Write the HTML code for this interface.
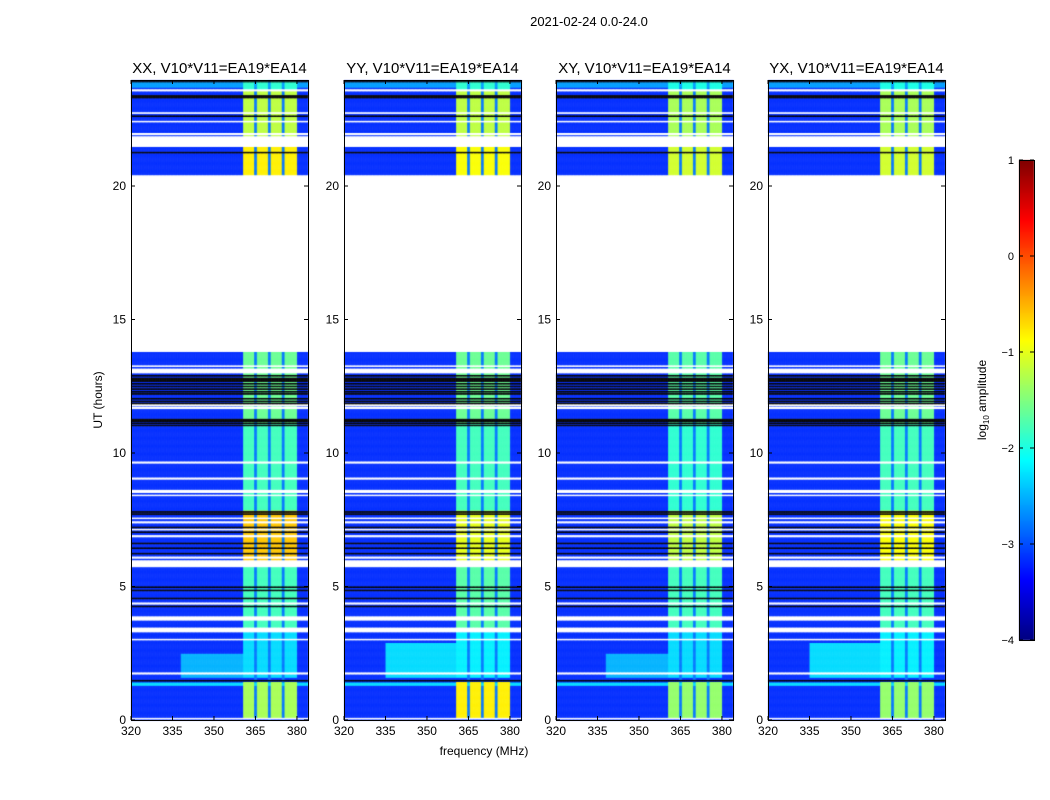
<!DOCTYPE html>
<html><head><meta charset="utf-8">
<style>
html,body{margin:0;padding:0;background:#fff;}
body{width:1050px;height:800px;position:relative;overflow:hidden;font-family:"Liberation Sans",sans-serif;}
#chart{position:absolute;left:0;top:0;}
</style></head>
<body>
<svg id="chart" width="1050" height="800" xmlns="http://www.w3.org/2000/svg">
<foreignObject x="0" y="0" width="1050" height="800"><canvas xmlns="http://www.w3.org/1999/xhtml" id="cv" width="1050" height="800"></canvas></foreignObject>
<g id="axes"></g>
</svg>
<script>
// ---- data ----
const panelTitles = ["XX, V10*V11=EA19*EA14","YY, V10*V11=EA19*EA14","XY, V10*V11=EA19*EA14","YX, V10*V11=EA19*EA14"];
const xTicks = [320,335,350,365,380];
const yTicks = [0,5,10,15,20];
const cbTicks = [1,0,-1,-2,-3,-4];
const cbTickLabels = ["1","0","\u22121","\u22122","\u22123","\u22124"];
const backgroundLevel = -3.15;
const gapRanges = [[13.79,20.41],[21.47,21.87],[13.0,13.17],[5.73,5.99],[3.3,3.48]];
const whiteLines = [23.6,22.75,22.43,21.96,13.27,11.8,11.7,9.66,9.06,8.6,8.55,8.43,7.57,7.42,7.15,6.9,6.1,4.38,3.86,3.78,3.03,1.76,0.07];
const blackLines = [23.93,23.38,23.33,22.63,21.27,12.9,12.8,12.77,12.7,12.6,12.5,12.4,12.3,12.22,12.05,11.95,11.87,11.27,11.2,11.12,11.05,7.8,7.72,7.23,7.04,6.63,6.44,6.25,4.98,4.87,4.57,4.27,1.5];
const rfiSubbands = [[360.5,364.6],[365.4,369.6],[370.4,374.6],[375.4,380.0]];
const rfiSegments = [[0.1,1.45],[1.6,3.3],[3.48,5.73],[5.99,7.85],[7.85,11.1],[11.1,13.79],[20.41,21.47],[21.87,23.6],[23.6,24]];
const rfiXX = [-1.3,-2.3,-1.8,-0.6,-1.8,-1.6,-0.8,-1.2,-1.9];
const rfiYY = [-0.8,-2.2,-1.7,-1.0,-1.8,-1.6,-0.9,-1.2,-1.9];
const rfiXY = [-1.4,-2.3,-1.8,-1.2,-1.9,-1.7,-1.1,-1.3,-2.0];
const rfiYX = [-1.4,-2.2,-1.8,-0.9,-1.8,-1.6,-1.1,-1.3,-2.0];
const panelRfi = [rfiXX,rfiYY,rfiXY,rfiYX];
const blobXX = [1.6,2.5,338,361,-2.5];
const blobYY = [1.6,2.9,335,361,-2.3];
const blobXY = [1.6,2.5,338,361,-2.5];
const blobYX = [1.6,2.9,335,361,-2.3];
const panelBlob = [blobXX,blobYY,blobXY,blobYX];
const cyanBand = [1.3,1.42,-2.3];
const topRow = [23.7,23.93,-2.6];

// ---- layout ----
const panelX = [131,344,556,768];
const PW=177, PT=80, PB=720, pxPerHour=26.7, pxPerMHz=PW/64;
const xs = (p,f)=>panelX[p]+(f-320)*pxPerMHz;
const ys = h=>PB-h*pxPerHour;

function jet(t){
  t=Math.max(0,Math.min(1,t));
  const r=Math.min(Math.max(Math.min(4*t-1.5,-4*t+4.5),0),1);
  const g=Math.min(Math.max(Math.min(4*t-0.5,-4*t+3.5),0),1);
  const b=Math.min(Math.max(Math.min(4*t+0.5,-4*t+2.5),0),1);
  return `rgb(${Math.round(r*255)},${Math.round(g*255)},${Math.round(b*255)})`;
}
const norm = v=>(v+4)/5;

const ctx=document.getElementById('cv').getContext('2d');
function inRanges(h,list){return list.some(r=>h>=r[0]&&h<r[1]);}
function nearLine(h,list,w){return list.some(l=>Math.abs(h-l)<w);}

function cellValue(p,h,f){
  if(inRanges(h,gapRanges)||nearLine(h,whiteLines,0.035)) return 'white';
  if(nearLine(h,blackLines,0.03)) return 'black';
  let v=backgroundLevel;
  if(h>=topRow[0]&&h<topRow[1]) v=topRow[2];
  if(h>=cyanBand[0]&&h<cyanBand[1]) v=cyanBand[2];
  const b=panelBlob[p];
  if(h>=b[0]&&h<b[1]&&f>=b[2]&&f<b[3]) v=Math.max(v,b[4]);
  const sb=rfiSubbands.some(s=>f>=s[0]&&f<s[1]);
  if(sb){
    for(let i=0;i<rfiSegments.length;i++){
      const s=rfiSegments[i];
      if(h>=s[0]&&h<s[1]) v=Math.max(v,panelRfi[p][i]);
    }
  } else if(f>=360.5&&f<380){ v=Math.max(v,-2.8); }
  return v;
}

const dh=0.02, df=0.5;
for(let p=0;p<4;p++){
  for(let h=0;h<24;h+=dh){
    for(let f=320;f<384;f+=df){
      const v=cellValue(p,h+dh/2,f+df/2);
      ctx.fillStyle = v==='white'?'#fff':v==='black'?'#000':jet(norm(v));
      const x0=xs(p,f), x1=xs(p,f+df), y0=Math.max(PT,ys(h+dh)), y1=ys(h);
      if(y1<=PT) continue;
      ctx.fillRect(x0,y0,x1-x0+0.4,y1-y0+0.4);
    }
  }
}
// colorbar
const cbX=1019, cbW=15, cbT=160, cbB=640;
for(let y=cbT;y<cbB;y++){
  const v=1-(y-cbT)/(cbB-cbT)*5;
  ctx.fillStyle=jet(norm(v));
  ctx.fillRect(cbX,y,cbW,1.2);
}

// ---- axes (SVG) ----
const NS="http://www.w3.org/2000/svg";
const g=document.getElementById('axes');
function el(tag,attrs,text){const e=document.createElementNS(NS,tag);for(const k in attrs)e.setAttribute(k,attrs[k]);if(text!==undefined)e.textContent=text;g.appendChild(e);return e;}
for(let p=0;p<4;p++){
  const fr=el('rect',{x:panelX[p]+0.5,y:PT+0.5,width:PW,height:PB-PT,fill:'none',stroke:'#000','stroke-width':1});
  
  
  const t=el('text',{x:panelX[p]+PW/2,y:73,'text-anchor':'middle','font-size':15},panelTitles[p]);
  
  
  xTicks.forEach(v=>{
    const x=xs(p,v);
    el('line',{x1:x,x2:x,y1:PB,y2:PB-4,stroke:'#000'});
    el('line',{x1:x,x2:x,y1:PT,y2:PT+4,stroke:'#000'});
    const l=el('text',{x:x,y:PB+15,'text-anchor':'middle','font-size':12},String(v));
    
    
  });
  yTicks.forEach(v=>{
    const y=ys(v);
    el('line',{x1:panelX[p],x2:panelX[p]+4,y1:y,y2:y,stroke:'#000'});
    el('line',{x1:panelX[p]+PW,x2:panelX[p]+PW-4,y1:y,y2:y,stroke:'#000'});
    const l=el('text',{x:panelX[p]-5,y:y+4,'text-anchor':'end','font-size':12},String(v));
    
    
  });
}
const st=el('text',{x:589,y:26,'text-anchor':'middle','font-size':13},"2021-02-24 0.0-24.0");


const xl=el('text',{x:484,y:755,'text-anchor':'middle','font-size':12},"frequency (MHz)");


const yl=el('text',{x:0,y:0,'text-anchor':'middle','font-size':12,transform:'translate(102,400) rotate(-90)'},"UT (hours)");


const cbf=el('rect',{x:cbX+0.5,y:cbT+0.5,width:cbW,height:cbB-cbT,fill:'none',stroke:'#000'});


cbTicks.forEach((v,i)=>{
  const y=cbT+(1-v)/5*(cbB-cbT);
  el('line',{x1:cbX,x2:cbX+4,y1:y,y2:y,stroke:'#000'});
  el('line',{x1:cbX+cbW,x2:cbX+cbW-4,y1:y,y2:y,stroke:'#000'});
  const l=el('text',{x:cbX-5,y:y+4,'text-anchor':'end','font-size':11},cbTickLabels[i]);
  
  
});
const cbl=el('text',{x:0,y:0,'text-anchor':'middle','font-size':12,transform:'translate(986,400) rotate(-90)'});


const t1=document.createElementNS(NS,'tspan');t1.textContent='log';cbl.appendChild(t1);
const t2=document.createElementNS(NS,'tspan');t2.textContent='10';t2.setAttribute('font-size','8');t2.setAttribute('dy','3');cbl.appendChild(t2);
const t3=document.createElementNS(NS,'tspan');t3.textContent=' amplitude';t3.setAttribute('dy','-3');cbl.appendChild(t3);
</script>
</body></html>
